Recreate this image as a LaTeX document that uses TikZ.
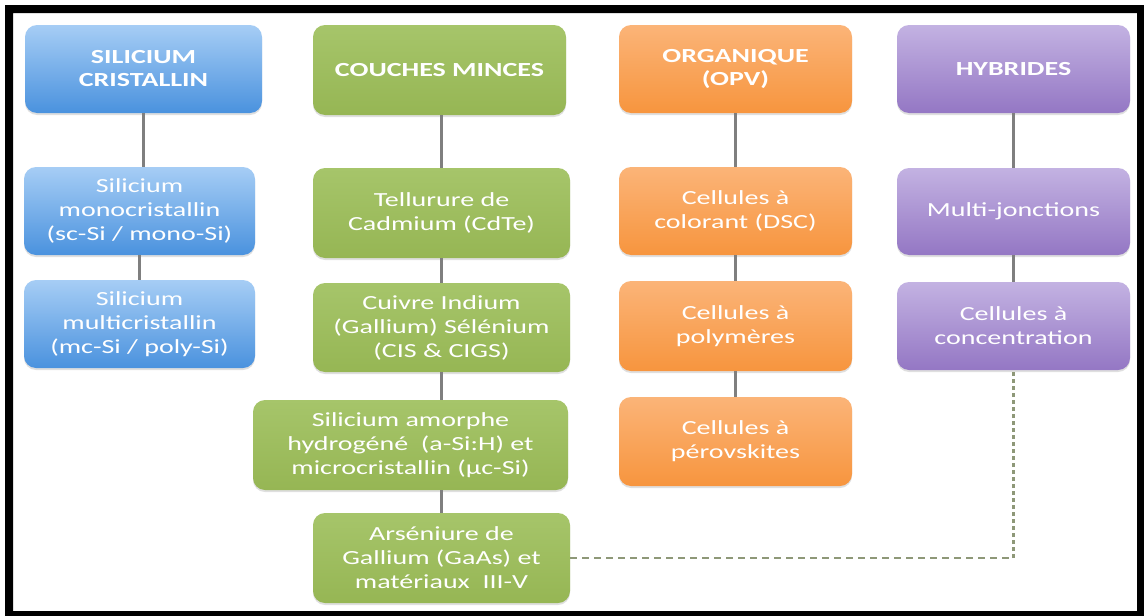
\documentclass[tikz,border=0pt]{standalone}
\usepackage{fontspec}
\setmainfont[FakeStretch=1.4]{Carlito}
\usetikzlibrary{shadows}
\definecolor{bluetop}{HTML}{A6CDF5}
\definecolor{bluebot}{HTML}{4A92DE}
\definecolor{greentop}{HTML}{A6C56A}
\definecolor{greenbot}{HTML}{96B654}
\definecolor{orangetop}{HTML}{FBB478}
\definecolor{orangebot}{HTML}{F7953E}
\definecolor{purptop}{HTML}{C3B2E2}
\definecolor{purpbot}{HTML}{9477C4}
\definecolor{connc}{HTML}{7F7F7F}
\definecolor{dashc}{HTML}{8E9878}
\tikzset{
  bx/.style={rounded corners=12pt, inner sep=2pt, align=center, text=white,
    font=\fontsize{20}{24}\selectfont,
    drop shadow={shadow xshift=0pt, shadow yshift=-2pt, opacity=0.25}},
  hd/.style={font=\fontsize{20}{23}\selectfont\bfseries},
  bluebox/.style={bx, top color=bluetop, bottom color=bluebot},
  greenbox/.style={bx, top color=greentop, bottom color=greenbot},
  orangebox/.style={bx, top color=orangetop, bottom color=orangebot},
  purpbox/.style={bx, top color=purptop, bottom color=purpbot},
  conn/.style={draw=connc, line width=2.5pt},
  dashh/.style={draw=dashc, line width=2.5pt, dash pattern=on 7pt off 5pt},
  dashv/.style={draw=dashc, line width=2.5pt, dash pattern=on 4pt off 3pt},
}
\newcommand{\bxat}[7]{% style, name, x1,y1,x2,y2, text
  \node[#1, minimum width={#5-#3}, minimum height={#6-#4}] (#2) at ({(#3+#5)/2},{(#4+#6)/2}) {#7};}
\begin{document}
\begin{tikzpicture}[x=1pt,y=-1pt]
\useasboundingbox (0,0) rectangle (1144,616);
\fill[white] (0,0) rectangle (1144,616);
\fill[black, even odd rule] (5,5) rectangle (1144,616) (13,13) rectangle (1137,611);
% blue column
\bxat{bluebox,hd}{b0}{25}{25}{262}{113}{SILICIUM\\CRISTALLIN}
\bxat{bluebox}{b1}{24}{167}{255}{255}{Silicium\\monocristallin\\(sc-Si / mono-Si)}
\bxat{bluebox}{b2}{24}{280}{255}{368}{Silicium\\multicristallin\\(mc-Si / poly-Si)}
% green column
\bxat{greenbox,hd}{g0}{313}{25}{566}{115}{COUCHES MINCES}
\bxat{greenbox}{g1}{313}{168}{570}{258}{Tellurure de\\Cadmium (CdTe)}
\bxat{greenbox}{g2}{313}{283}{570}{372}{Cuivre Indium\\(Gallium) Sélénium\\(CIS \& CIGS)}
\bxat{greenbox}{g3}{253}{400}{568}{490}{Silicium amorphe\\hydrogéné\ \ (a-Si:H) et\\microcristallin (µc-Si)}
\bxat{greenbox}{g4}{313}{513}{570}{603}{Arséniure de\\Gallium (GaAs) et\\matériaux\ \ III-V}
% orange column
\bxat{orangebox,hd}{o0}{619}{25}{852}{113}{ORGANIQUE\\(OPV)}
\bxat{orangebox}{o1}{619}{167}{852}{255}{Cellules à\\colorant (DSC)}
\bxat{orangebox}{o2}{619}{281}{852}{371}{Cellules à\\polymères}
\bxat{orangebox}{o3}{619}{397}{852}{486}{Cellules à\\pérovskites}
% purple column
\bxat{purpbox,hd}{p0}{897}{25}{1130}{113}{HYBRIDES}
\bxat{purpbox}{p1}{897}{168}{1130}{255}{Multi-jonctions}
\bxat{purpbox}{p2}{897}{282}{1130}{370}{Cellules à\\concentration}
% connectors
\draw[conn] (b0.south) -- (b0.south |- b1.north);
\draw[conn] (b1.south) -- (b2.north);
\draw[conn] (g1.north |- g0.south) -- (g1.north);
\draw[conn] (g1.south) -- (g2.north);
\draw[conn] (g2.south) -- (g2.south |- g3.north);
\draw[conn] (g4.north |- g3.south) -- (g4.north);
\draw[conn] (o0.south) -- (o1.north);
\draw[conn] (o1.south) -- (o2.north);
\draw[conn] (o2.south) -- (o3.north);
\draw[conn] (p0.south) -- (p1.north);
\draw[conn] (p1.south) -- (p2.north);
\coordinate (k) at (p2.south |- g4.east);
\draw[dashh] (g4.east) -- (k);
\draw[dashv] (k) -- (p2.south);
\end{tikzpicture}
\end{document}
